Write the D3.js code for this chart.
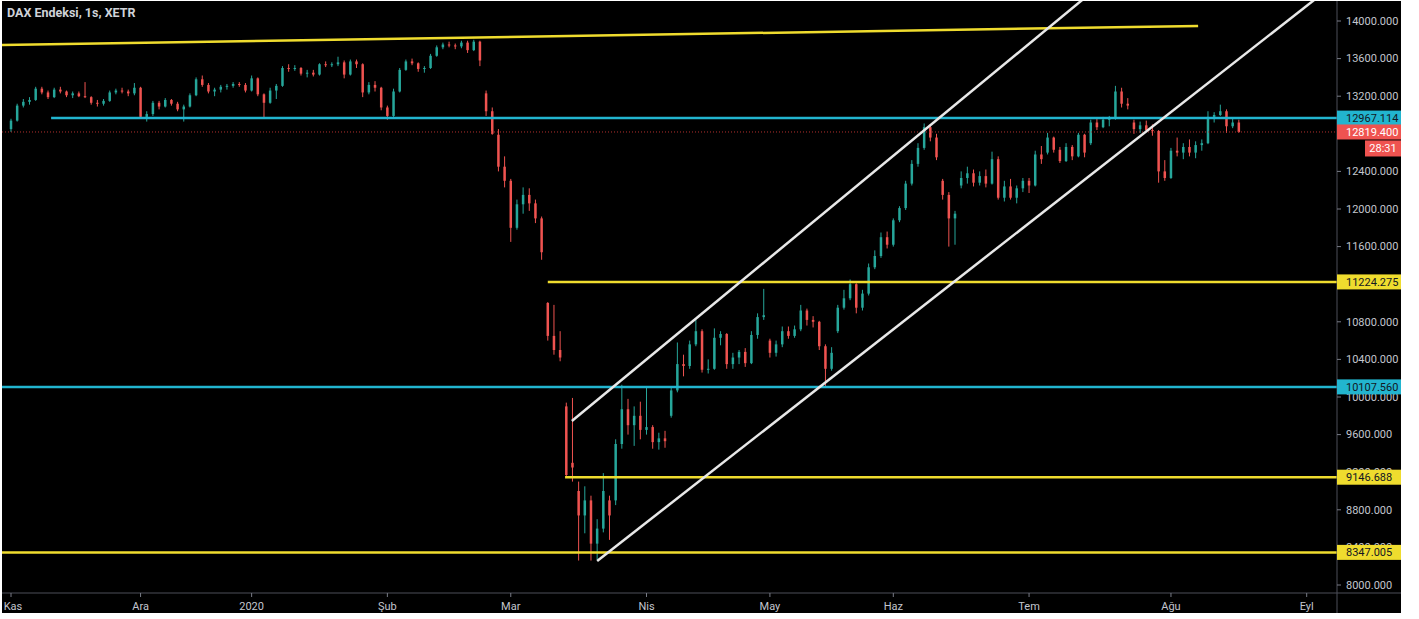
<!DOCTYPE html>
<html>
<head>
<meta charset="utf-8">
<script src="https://cdn.jsdelivr.net/npm/d3@7"></script>
<style>
  html, body { margin: 0; padding: 0; background: #fff; }
  svg { display: block; font-family: Roboto, "Liberation Sans", sans-serif; }
</style>
</head>
<body>
<svg id="chart" width="1419" height="619"></svg>
<script>
/* ---------------------------------------------------------
   DAX Endeksi, XETR - mumlar + cizimler (D3 v7)
--------------------------------------------------------- */

// 1 · Veri: her gun [acilis, yuksek, dusuk, kapanis]
const nov = [
  [12850,12960,12820,12940],[12940,13120,12930,13100],[13100,13170,13080,13140],
  [13140,13190,13110,13160],[13160,13300,13150,13280],[13280,13300,13220,13240],
  [13240,13260,13170,13190],[13190,13290,13180,13270],[13270,13300,13230,13250],
  [13250,13260,13190,13210],[13210,13250,13180,13230],[13230,13250,13190,13200],
  [13200,13350,13180,13190],[13190,13200,13110,13130],[13130,13160,13090,13120],
  [13120,13170,13100,13150],[13150,13260,13140,13240],[13240,13280,13220,13260],
  [13260,13290,13230,13250],[13250,13270,13200,13230],[13230,13340,13210,13290]
];
const dec = [
  [13290,13300,12960,12980],[12980,13040,12930,13010],[13010,13150,12990,13130],
  [13130,13150,13060,13090],[13090,13180,13080,13160],[13160,13170,13100,13120],
  [13120,13140,13040,13060],[13060,13110,12930,13090],[13090,13230,13080,13210],
  [13210,13400,13200,13380],[13380,13420,13300,13320],[13320,13340,13230,13250],
  [13250,13290,13200,13270],[13270,13320,13240,13300],[13300,13330,13270,13310],
  [13310,13350,13290,13330],[13330,13350,13300,13320],[13320,13340,13240,13260]
];
const jan = [
  [13260,13420,13250,13390],[13390,13400,13200,13220],[13220,13230,12970,13130],
  [13130,13290,13120,13260],[13260,13330,13170,13310],[13310,13520,13300,13500],
  [13500,13540,13460,13490],[13490,13530,13470,13500],[13500,13510,13420,13440],
  [13440,13480,13400,13450],[13450,13480,13410,13430],[13430,13550,13420,13540],
  [13540,13570,13510,13530],[13530,13560,13510,13540],[13540,13620,13520,13560],
  [13560,13580,13390,13430],[13430,13590,13420,13570],[13570,13590,13500,13540],
  [13540,13550,13190,13240],[13240,13350,13220,13320],[13320,13360,13250,13290],
  [13290,13300,13050,13080]
];
const feb = [
  [13080,13100,12950,12990],[12990,13280,12980,13250],[13250,13500,13240,13480],
  [13480,13590,13470,13570],[13570,13600,13530,13550],[13550,13560,13460,13490],
  [13490,13520,13450,13500],[13500,13650,13490,13630],[13630,13740,13620,13720],
  [13720,13770,13700,13750],[13750,13780,13720,13740],[13740,13760,13700,13730],
  [13730,13790,13710,13770],[13770,13790,13660,13690],[13690,13800,13680,13780],
  [13780,13790,13520,13580],[13230,13260,12990,13040],[13040,13080,12790,12800],
  [12790,12850,12400,12450],[12450,12560,12230,12300]
];
const mar = [
  [12300,12320,11650,11800],[11800,12100,11780,12050],[12050,12230,11950,12150],
  [12150,12220,11980,12060],[12060,12100,11850,11900],[11900,11920,11460,11540],
  [11000,11010,10600,10650],[10650,10980,10450,10500],[10500,10700,10380,10420],
  [9900,9940,9150,9170],[9300,9990,9100,9250],[9000,9100,8260,8740],
  [8740,9050,8550,8900],[8900,8950,8260,8440],[8440,8700,8270,8600],
  [8600,9190,8560,9000],[8900,8950,8480,8740],[8900,9550,8850,9500],
  [9500,10130,9450,9870],[9870,9980,9600,9700],[9700,9900,9480,9800],
  [9800,9950,9550,9650]
];
const apr = [
  [9650,10100,9600,9680],[9680,9700,9450,9520],[9520,9620,9440,9560],
  [9560,9640,9460,9530],[9800,10100,9780,10070],[10070,10580,10050,10350],
  [10350,10450,10220,10330],[10330,10600,10300,10560],[10560,10820,10540,10700],
  [10700,10720,10260,10290],[10290,10400,10250,10300],[10300,10730,10290,10630],
  [10630,10700,10550,10670],[10670,10680,10300,10350],[10350,10470,10300,10420],
  [10420,10500,10350,10480],[10480,10520,10320,10360],[10360,10700,10350,10660],
  [10660,10890,10620,10850],[10850,11150,10820,10870]
];
const may = [
  [10600,10620,10420,10470],[10470,10600,10430,10560],[10560,10750,10530,10700],
  [10700,10750,10620,10650],[10650,10760,10630,10720],[10720,10980,10700,10920],
  [10920,10940,10760,10820],[10820,10860,10740,10800],[10800,10810,10500,10540],
  [10540,10560,10110,10300],[10300,10530,10280,10470],[10700,10980,10680,10950],
  [10950,11140,10930,11050],[11050,11250,11030,11200],[11200,11210,10890,10950],
  [10950,11140,10920,11100],[11100,11420,11080,11380],[11380,11560,11360,11500],
  [11500,11750,11480,11700],[11700,11760,11580,11620]
];
const jun = [
  [11620,11900,11600,11880],[11880,12030,11860,12010],[12010,12300,11990,12270],
  [12270,12520,12250,12480],[12480,12700,12450,12650],[12650,12910,12630,12870],
  [12870,12900,12720,12760],[12760,12800,12520,12550],[12300,12320,12100,12150],
  [12150,12180,11600,11900],[11900,11980,11620,11950],[12250,12400,12220,12330],
  [12330,12450,12270,12380],[12380,12420,12240,12280],[12280,12400,12250,12350],
  [12350,12420,12230,12270],[12270,12610,12260,12530],[12530,12560,12100,12120],
  [12120,12300,12080,12240],[12240,12320,12100,12120],[12120,12250,12060,12220],
  [12220,12330,12180,12300]
];
const jul = [
  [12300,12330,12170,12250],[12250,12620,12240,12580],[12580,12670,12480,12530],
  [12600,12810,12580,12760],[12760,12770,12600,12630],[12630,12660,12490,12510],
  [12510,12700,12500,12660],[12660,12680,12520,12560],[12560,12810,12550,12790],
  [12790,12800,12550,12600],[12700,12950,12680,12920],[12920,12960,12840,12870],
  [12870,12980,12860,12950],[12950,12990,12880,12960],[12960,13310,12950,13250],
  [13250,13290,13080,13120],[13120,13180,13060,13100],[12920,12950,12800,12850],
  [12850,12930,12810,12890],[12890,12940,12820,12840],[12840,12900,12780,12830],
  [12830,12840,12280,12400],[12400,12520,12300,12330]
];
const aug = [
  [12330,12650,12320,12620],[12620,12760,12560,12600],[12600,12700,12530,12660],
  [12660,12740,12560,12600],[12600,12720,12540,12680],[12680,12740,12620,12700],
  [12700,13040,12690,12980],[12980,13030,12920,13000],[13000,13110,12990,13040],
  [13040,13060,12810,12880],[12880,12960,12860,12920],[12920,12950,12810,12819.4]
];

// eksen etiketleri
const monthLabels = ['Kas', 'Ara', '2020', 'Şub', 'Mar', 'Nis', 'May', 'Haz', 'Tem', 'Ağu', 'Eyl'];
const monthStart  = [0, 21, 39, 61, 81, 103, 123, 143, 165, 188, 210];   // bar sirasi
const priceTicks  = [8000, 8400, 8800, 9200, 9600, 10000, 10400, 10800,
                     11200, 11600, 12000, 12400, 12800, 13200, 13600, 14000];

// yatay seviyeler + nereden basladiklari (bar sirasi)
const levelValues = [12967.114, 11224.275, 10107.560, 9146.688, 8347.005];
const levelFrom   = [6.5, 87, -3, 89.8, -3];
const lastPrice   = 12819.4;
const countdown   = '28:31';

// trend cizgileri [[bar, fiyat], [bar, fiyat]]
const topLine     = [[-1.8, 13745], [192.4, 13947]];
const channelHigh = [[90.9, 9745], [173.6, 14223]];
const channelLow  = [[95.0, 8255], [211.2, 14223]];

/* 2 · Ayarlar */
const plot = { left: 2, right: 1337, top: 1, bottom: 593, frameRight: 1401, frameBottom: 613 };
const col = {
  up: '#26a69a', down: '#ef5350', text: '#c3c6ce', axis: '#4c4f58',
  yellow: '#efdc2e', cyan: '#22b5cf', white: '#e8e8e8'
};
const levelColors = [col.cyan, col.yellow, col.cyan, col.yellow, col.yellow];

const bars = [].concat(nov, dec, jan, feb, mar, apr, may, jun, jul, aug)
  .map((d, i) => ({ i, o: d[0], h: d[1], l: d[2], c: d[3] }));

/* 3 · Olcekler */
const x = d3.scaleLinear().domain([0, 200]).range([11, 1245]);
const y = d3.scaleLinear().domain([8000, 14000]).range([585, 21]);

const svg = d3.select('#chart');

// siyah zemin
svg.append('rect')
   .attr('x', plot.left).attr('y', plot.top)
   .attr('width', plot.frameRight - plot.left)
   .attr('height', plot.frameBottom - plot.top)
   .attr('fill', '#000');

svg.append('clipPath').attr('id', 'clip')
   .append('rect')
   .attr('x', plot.left).attr('y', plot.top)
   .attr('width', plot.right - plot.left)
   .attr('height', plot.bottom - plot.top);

const g = svg.append('g').attr('clip-path', 'url(#clip)');

/* 4 · Mumlar */
const candle = g.selectAll('.bar').data(bars).enter().append('g').attr('class', 'bar');

candle.append('line')
   .attr('x1', d => x(d.i)).attr('x2', d => x(d.i))
   .attr('y1', d => y(d.h)).attr('y2', d => y(d.l))
   .attr('stroke', d => d.c >= d.o ? col.up : col.down)
   .attr('stroke-width', 1);

candle.append('rect')
   .attr('x', d => x(d.i) - 1.25)
   .attr('width', 2.5)
   .attr('y', d => y(Math.max(d.o, d.c)))
   .attr('height', d => Math.max(1, Math.abs(y(d.o) - y(d.c))))
   .attr('fill', d => d.c >= d.o ? col.up : col.down);

/* 5 · Son fiyat cizgisi (noktali) */
g.append('line')
   .attr('x1', plot.left).attr('x2', plot.right)
   .attr('y1', y(lastPrice)).attr('y2', y(lastPrice))
   .attr('stroke', '#b3302e')
   .attr('stroke-width', 1)
   .attr('stroke-dasharray', '1,2');

/* 6 · Yatay seviyeler */
levelValues.forEach((v, k) => {
  g.append('line')
     .attr('x1', x(levelFrom[k])).attr('x2', plot.right)
     .attr('y1', y(v)).attr('y2', y(v))
     .attr('stroke', levelColors[k])
     .attr('stroke-width', 2.5);
});

/* 7 · Trend cizgileri */
const seg = d3.line().x(d => x(d[0])).y(d => y(d[1]));
[[topLine, col.yellow], [channelHigh, col.white], [channelLow, col.white]].forEach(([pts, c]) => {
  g.append('path')
     .attr('d', seg(pts))
     .attr('fill', 'none')
     .attr('stroke', c)
     .attr('stroke-width', 2.5);
});

/* 8 · Eksenler */
svg.append('line')
   .attr('x1', plot.right).attr('x2', plot.right)
   .attr('y1', plot.top).attr('y2', plot.frameBottom)
   .attr('stroke', col.axis);
svg.append('line')
   .attr('x1', plot.left).attr('x2', plot.frameRight)
   .attr('y1', plot.bottom).attr('y2', plot.bottom)
   .attr('stroke', col.axis);

// fiyat ekseni
priceTicks.forEach(v => {
  svg.append('line')
     .attr('x1', plot.right).attr('x2', plot.right + 4)
     .attr('y1', y(v)).attr('y2', y(v))
     .attr('stroke', '#787b86');
  svg.append('text')
     .attr('x', plot.right + 9).attr('y', y(v))
     .attr('dy', '0.35em')
     .attr('font-size', 11)
     .attr('fill', col.text)
     .text(d3.format('.3f')(v));
});

// zaman ekseni
monthLabels.forEach((m, k) => {
  const px = x(monthStart[k]);
  svg.append('line')
     .attr('x1', px).attr('x2', px)
     .attr('y1', plot.bottom).attr('y2', plot.bottom + 4)
     .attr('stroke', '#787b86');
  svg.append('text')
     .attr('x', Math.max(px, 13)).attr('y', 606)
     .attr('dy', '0.35em')
     .attr('text-anchor', 'middle')
     .attr('font-size', 11)
     .attr('fill', col.text)
     .text(m);
});

/* 9 · Eksen uzerindeki etiket kutulari */
function tag(v, bg, fg) {
  svg.append('rect')
     .attr('x', plot.right).attr('y', y(v) - 7.5)
     .attr('width', plot.frameRight - plot.right).attr('height', 15)
     .attr('fill', bg);
  svg.append('text')
     .attr('x', plot.right + 9).attr('y', y(v))
     .attr('dy', '0.35em')
     .attr('font-size', 11)
     .attr('fill', fg)
     .text(d3.format('.3f')(v));
}
levelValues.forEach((v, k) => tag(v, levelColors[k], '#131722'));
tag(lastPrice, col.down, '#fff');

svg.append('rect')
   .attr('x', 1365).attr('y', y(lastPrice) + 8.5)
   .attr('width', plot.frameRight - 1365).attr('height', 16)
   .attr('fill', col.down);
svg.append('text')
   .attr('x', 1383).attr('y', y(lastPrice) + 16.5)
   .attr('dy', '0.35em')
   .attr('text-anchor', 'middle')
   .attr('font-size', 11)
   .attr('fill', '#fff')
   .text(countdown);

/* 10 · Baslik */
svg.append('text')
   .attr('x', 7).attr('y', 17)
   .attr('font-size', 12.5)
   .attr('font-weight', 'bold')
   .attr('fill', '#cfd2d8')
   .text('DAX Endeksi, 1s, XETR');
</script>
</body>
</html>
